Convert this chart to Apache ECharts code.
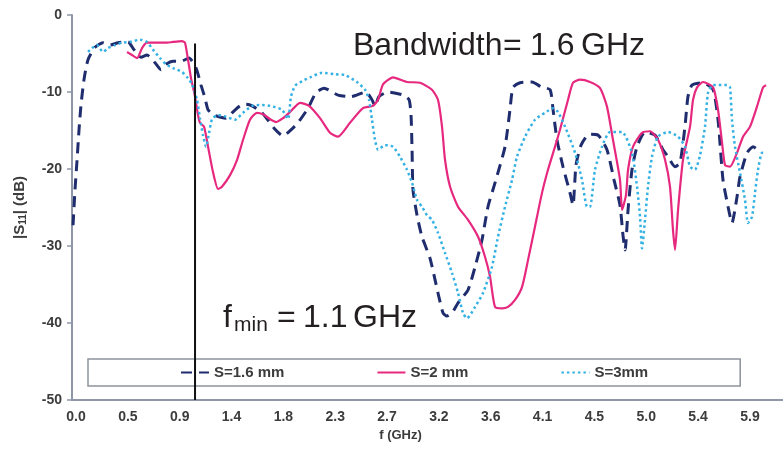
<!DOCTYPE html>
<html>
<head>
<meta charset="utf-8">
<script src="https://cdn.jsdelivr.net/npm/echarts@6/dist/echarts.min.js"></script>
<style>
html,body{margin:0;padding:0;background:#fff;}
#main{width:783px;height:451px;}
</style>
</head>
<body>
<div id="main"></div>
<script>
// x axis tick positions (GHz) and their printed labels
var xTickValues = [0, 0.45, 0.9, 1.35, 1.8, 2.25, 2.7, 3.15, 3.6, 4.05, 4.5, 4.95, 5.4, 5.85];
var xTickLabels = ['0.0','0.5','0.9','1.4','1.8','2.3','2.7','3.2','3.6','4.1','4.5','5.0','5.4','5.9'];

// S = 1.6 mm (dashed)
var s16Freq = [-0.026,-0.009,0.009,0.026,0.043,0.069,0.104,0.165,0.234,0.295,0.365,0.451,0.503,0.564,0.616,0.686,0.738,0.781,0.842,0.911,0.981,
  1.042,1.085,1.120,1.146,1.198,1.302,1.354,1.424,1.476,1.528,1.615,1.719,1.797,1.875,1.936,2.014,2.083,2.153,2.274,2.387,2.517,2.569,2.595,2.630,2.708,2.839,2.891,2.908,2.917,2.925,2.960,
  3.003,3.073,3.142,3.186,3.220,3.264,3.316,3.403,3.464,3.524,3.576,3.637,3.724,3.767,3.793,3.854,3.958,4.045,4.115,4.141,4.175,4.227,4.288,4.314,4.340,4.384,4.453,4.531,4.609,4.670,4.722,4.748,4.766,4.792,4.826,4.870,4.939,
  5.026,5.095,5.130,5.200,5.243,5.286,5.312,5.347,5.443,5.530,5.573,5.616,5.660,5.694,5.738,5.764,5.825,5.877,5.938];
var s16Db = [-27.3,-22.7,-18.8,-14.9,-11.7,-8.4,-5.8,-4.2,-3.6,-3.9,-3.6,-3.5,-4.5,-5.5,-5.2,-6.2,-7.1,-6.4,-6.0,-6.0,-5.6,
  -6.9,-9.1,-10.8,-12.3,-13.0,-13.4,-12.7,-11.8,-11.6,-11.8,-12.7,-14.7,-15.7,-14.8,-13.8,-12.1,-10.1,-9.5,-10.4,-10.6,-10.0,-11.0,-11.8,-10.6,-10.0,-10.4,-11.0,-13.0,-17.5,-22.7,-26.0,
  -28.8,-31.6,-36.1,-38.7,-39.1,-38.7,-37.4,-35.7,-32.7,-29.2,-24.9,-21.8,-17.1,-12.3,-9.4,-8.8,-8.7,-9.4,-9.7,-12.3,-16.2,-19.7,-23.1,-24.7,-19.5,-16.9,-15.5,-15.6,-17.5,-21.4,-24.7,-28.6,-30.5,-25.3,-20.1,-17.1,-15.2,
  -15.6,-17.5,-18.2,-19.7,-19.2,-14.5,-10.6,-9.1,-8.8,-9.7,-13.6,-21.4,-24.9,-27.0,-23.6,-21.0,-17.9,-17.1,-17.8];

// S = 2 mm (solid)
var s2Freq = [0.443,0.486,0.530,0.573,0.616,0.703,0.790,0.842,0.920,0.946,0.972,0.998,
  1.033,1.059,1.076,1.111,1.146,1.189,1.233,1.267,1.337,1.398,1.450,1.510,1.571,1.623,1.693,1.736,1.797,1.858,1.944,2.023,2.118,2.205,2.274,2.378,2.491,2.578,2.622,2.665,2.752,2.873,2.986,
  3.090,3.142,3.177,3.203,3.247,3.316,3.403,3.490,3.550,3.594,3.637,3.698,3.750,3.811,3.872,3.924,3.984,4.045,4.097,4.158,4.201,4.271,4.314,4.375,4.462,4.549,4.609,4.661,4.722,4.740,4.774,4.792,4.835,4.913,4.983,
  5.052,5.113,5.156,5.182,5.200,5.226,5.269,5.330,5.356,5.391,5.443,5.530,5.573,5.608,5.634,5.677,5.738,5.790,5.851,5.911,5.964,5.990];
var s2Db = [-4.8,-5.2,-5.6,-4.3,-3.6,-3.6,-3.6,-3.5,-3.4,-3.6,-5.8,-8.2,
  -10.6,-13.0,-14.0,-14.5,-17.1,-20.4,-22.6,-22.3,-20.8,-18.8,-16.2,-13.6,-12.7,-12.9,-13.6,-13.9,-13.4,-12.6,-11.4,-11.8,-13.4,-15.3,-15.8,-14.0,-12.1,-11.8,-11.0,-9.0,-8.1,-8.7,-8.8,
  -9.7,-11.0,-14.5,-18.8,-22.3,-24.9,-26.6,-28.8,-31.4,-34.0,-37.9,-38.1,-37.9,-37.0,-35.3,-31.8,-27.5,-23.1,-20.1,-17.1,-14.9,-11.0,-8.8,-8.4,-8.7,-9.5,-11.9,-16.2,-21.4,-25.3,-23.4,-20.1,-17.1,-15.3,-15.1,
  -16.2,-18.8,-22.3,-27.9,-30.5,-25.3,-18.8,-14.5,-11.0,-9.4,-8.7,-9.4,-12.3,-16.6,-19.5,-19.7,-17.9,-15.8,-14.5,-11.9,-9.4,-9.1];

// S = 3 mm (dotted)
var s3Freq = [0.104,0.139,0.182,0.234,0.278,0.339,0.399,0.469,0.556,0.616,0.668,0.729,0.781,0.842,0.920,0.972,
  1.007,1.050,1.076,1.102,1.128,1.155,1.181,1.233,1.302,1.380,1.450,1.528,1.615,1.684,1.788,1.840,1.866,1.901,1.962,2.031,2.135,2.248,2.335,2.439,2.509,2.543,2.569,2.595,2.622,2.682,2.752,2.812,2.873,2.917,2.960,
  3.003,3.047,3.090,3.142,3.203,3.264,3.316,3.359,3.394,3.464,3.533,3.611,3.663,3.724,3.785,3.828,3.898,3.984,4.071,4.141,4.184,4.245,4.332,4.392,4.436,4.462,4.505,4.566,4.635,4.740,4.826,4.870,4.896,4.913,4.939,4.965,
  5.000,5.052,5.139,5.226,5.286,5.330,5.373,5.417,5.460,5.486,5.530,5.651,5.677,5.694,5.720,5.764,5.807,5.833,5.868,5.894,5.920,5.955,5.981];
var s3Db = [-4.8,-4.3,-3.9,-4.8,-4.3,-3.9,-3.6,-3.5,-3.2,-3.5,-4.5,-5.6,-6.4,-6.9,-7.4,-8.2,
  -9.0,-11.0,-13.4,-15.6,-17.1,-15.3,-13.5,-13.0,-13.2,-13.6,-12.7,-11.8,-11.7,-11.8,-12.3,-13.5,-10.6,-9.2,-8.6,-8.1,-7.5,-7.7,-7.8,-8.7,-9.7,-11.0,-13.6,-16.2,-17.5,-16.9,-17.1,-18.4,-20.1,-21.8,-24.0,
  -24.9,-26.0,-26.6,-28.3,-30.9,-33.5,-36.1,-38.7,-39.4,-37.9,-36.1,-32.7,-28.8,-24.9,-21.4,-18.4,-15.8,-13.6,-12.7,-12.1,-12.6,-14.5,-17.9,-21.4,-24.9,-24.9,-20.1,-17.1,-15.2,-15.2,-17.9,-22.3,-26.2,-30.3,-26.6,-22.3,
  -18.4,-15.8,-15.2,-15.8,-17.1,-19.7,-20.1,-18.2,-14.5,-10.1,-9.1,-9.1,-9.4,-13.6,-17.1,-20.5,-24.0,-27.0,-26.2,-23.1,-20.1,-17.9,-17.9];

// f_min marker line
var fminFreq = [1.033, 1.033];
var fminDb = [-3.7, -50];

function zip(xs, ys) {
    var out = [];
    for (var i = 0; i < xs.length; i++) out.push([xs[i], ys[i]]);
    return out;
}

var font = '"Liberation Sans", Arial, sans-serif';
var axisColor = '#8e97a8';
var labelColor = '#3c3c3c';

var myChart = echarts.init(document.getElementById('main'));
var option = {
    backgroundColor: '#fff',
    animation: false,
    grid: {left: 72, right: 0, top: 15, bottom: 51},
    xAxis: {
        type: 'value',
        min: -0.035,
        max: 6.137,
        name: 'f (GHz)',
        nameLocation: 'middle',
        nameGap: 27,
        nameTextStyle: {fontFamily: font, fontWeight: 'bold', fontSize: 13, color: labelColor, padding: [0, 54, 0, 0]},
        axisLine: {show: true, onZero: false, lineStyle: {color: axisColor, width: 2}},
        axisTick: {show: false},
        splitLine: {show: false},
        axisLabel: {
            customValues: xTickValues,
            fontFamily: font, fontWeight: 'bold', fontSize: 14, color: labelColor, margin: 10,
            formatter: function (v) {
                var i = xTickValues.indexOf(v);
                return i >= 0 ? xTickLabels[i] : '';
            }
        }
    },
    yAxis: {
        type: 'value',
        min: -50,
        max: 0,
        interval: 10,
        name: '{a||S}{sub|11}{a|| (dB)}',
        nameLocation: 'middle',
        nameGap: 44,
        nameTextStyle: {
            rich: {
                a: {fontFamily: font, fontWeight: 'bold', fontSize: 15, color: labelColor},
                sub: {fontFamily: font, fontWeight: 'bold', fontSize: 10, color: labelColor, verticalAlign: 'bottom', padding: [6, 0, 0, 0]}
            }
        },
        axisLine: {show: true, onZero: false, lineStyle: {color: axisColor, width: 2}},
        axisTick: {show: true, length: 5, lineStyle: {color: axisColor, width: 1.5}},
        splitLine: {show: false},
        axisLabel: {fontFamily: font, fontWeight: 'bold', fontSize: 14, color: labelColor, margin: 10}
    },
    legend: {
        data: ['S=1.6 mm', 'S=2 mm', 'S=3mm'],
        left: 88,
        top: 359,
        padding: [6, 92],
        itemGap: 92,
        itemWidth: 28,
        itemHeight: 14,
        backgroundColor: '#fff',
        borderColor: '#8d929c',
        borderWidth: 1.5,
        itemStyle: {opacity: 0},
        textStyle: {fontFamily: font, fontWeight: 'bold', fontSize: 15, color: labelColor}
    },
    graphic: [
        {type: 'text', left: 353, top: 30, style: {text: 'Bandwidth', fontFamily: font, fontSize: 32, fill: '#231f20'}},
        {type: 'text', left: 503, top: 30, style: {text: '=', fontFamily: font, fontSize: 32, fill: '#231f20'}},
        {type: 'text', left: 530, top: 30, style: {text: '1.6', fontFamily: font, fontSize: 32, fill: '#231f20'}},
        {type: 'text', left: 581, top: 30, style: {text: 'GHz', fontFamily: font, fontSize: 32, fill: '#231f20'}},
        {type: 'text', left: 223, top: 302, style: {text: 'f', fontFamily: font, fontSize: 32, fill: '#231f20'}},
        {type: 'text', left: 234, top: 315, style: {text: 'min', fontFamily: font, fontSize: 21, fill: '#231f20'}},
        {type: 'text', left: 277, top: 302, style: {text: '=', fontFamily: font, fontSize: 32, fill: '#231f20'}},
        {type: 'text', left: 303, top: 302, style: {text: '1.1', fontFamily: font, fontSize: 32, fill: '#231f20'}},
        {type: 'text', left: 353, top: 302, style: {text: 'GHz', fontFamily: font, fontSize: 32, fill: '#231f20'}}
    ],
    series: [
        {
            name: 'S=1.6 mm',
            type: 'line',
            data: zip(s16Freq, s16Db),
            symbol: 'none',
            smooth: 0.2,
            lineStyle: {color: '#1f2d6e', width: 3, type: [11, 7]},
            itemStyle: {color: '#1f2d6e'}
        },
        {
            name: 'S=2 mm',
            type: 'line',
            data: zip(s2Freq, s2Db),
            symbol: 'none',
            smooth: 0.2,
            lineStyle: {color: '#e6287f', width: 2.2},
            itemStyle: {color: '#e6287f'}
        },
        {
            name: 'S=3mm',
            type: 'line',
            data: zip(s3Freq, s3Db),
            symbol: 'none',
            smooth: 0.2,
            lineStyle: {color: '#33b1e4', width: 2.5, type: [2.5, 3]},
            itemStyle: {color: '#33b1e4'}
        },
        {
            name: 'fmin',
            type: 'line',
            data: zip(fminFreq, fminDb),
            symbol: 'none',
            silent: true,
            z: 6,
            lineStyle: {color: '#111', width: 2},
            itemStyle: {color: '#111'}
        }
    ]
};
myChart.setOption(option);
</script>
</body>
</html>
